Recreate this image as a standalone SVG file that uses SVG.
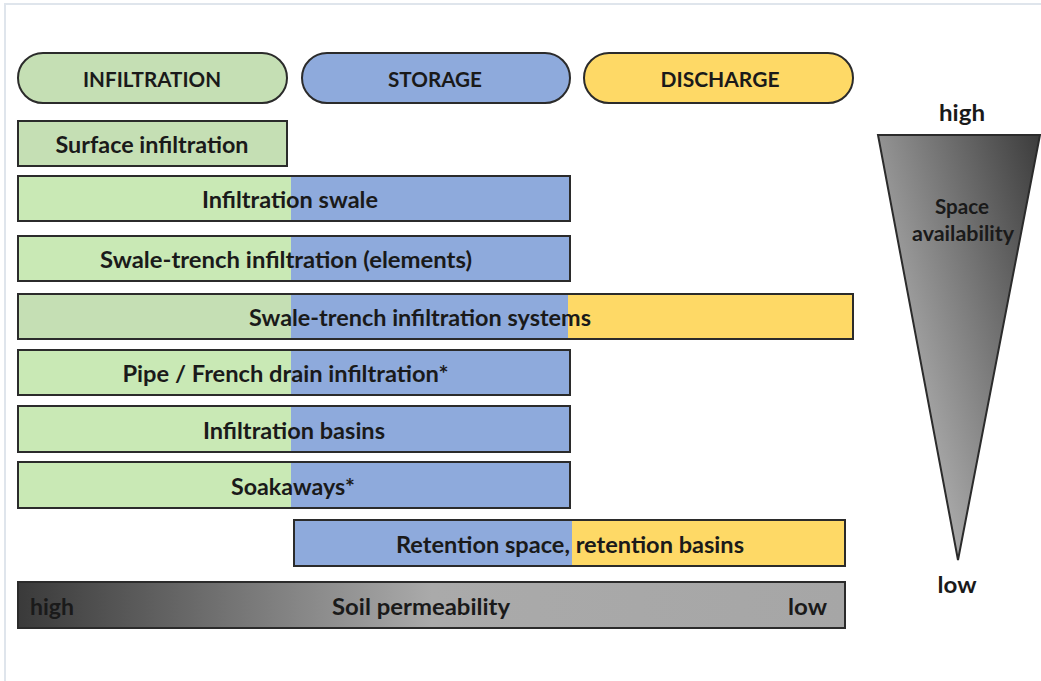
<svg xmlns="http://www.w3.org/2000/svg" width="1041" height="681" viewBox="0 0 1041 681">
<style>
.t{font-family:Lato,"Open Sans","Liberation Sans",sans-serif;font-weight:bold;font-size:23px;fill:#1a1a1a;text-anchor:middle;dominant-baseline:central}
.h{font-size:21px}
.s{font-size:20px}
.box{stroke:#2b2b2b;stroke-width:2}
.g{fill:#c9e9b5}
.gg{fill:#c5dfb4}
.b{fill:#8eaadc}
.y{fill:#fed966}
</style>
<defs>
<linearGradient id="soil" x1="0" y1="0" x2="1" y2="0">
<stop offset="0" stop-color="#3a3a3a"/>
<stop offset="0.5" stop-color="#aaaaaa"/>
<stop offset="1" stop-color="#a6a6a6"/>
</linearGradient>
<linearGradient id="tri" x1="1" y1="0" x2="0.2" y2="0.6">
<stop offset="0" stop-color="#3c3c3c"/>
<stop offset="1" stop-color="#a8a8a8"/>
</linearGradient>
</defs>
<rect width="1041" height="681" fill="#ffffff"/>
<path d="M5 681 V4 H1041" fill="none" stroke="#dfe5ec" stroke-width="2"/>

<g id="hdr-infiltration"><rect class="box gg" x="18" y="53" width="269" height="50" rx="25"/><text class="t h" x="152" y="78" textLength="138" lengthAdjust="spacingAndGlyphs">INFILTRATION</text></g>
<g id="hdr-storage"><rect class="box b" x="302" y="53" width="268" height="50" rx="25"/><text class="t h" x="435" y="78" textLength="94" lengthAdjust="spacingAndGlyphs">STORAGE</text></g>
<g id="hdr-discharge"><rect class="box y" x="584" y="53" width="269" height="50" rx="25"/><text class="t h" x="720" y="78" textLength="119" lengthAdjust="spacingAndGlyphs">DISCHARGE</text></g>

<g id="surface"><rect class="box gg" x="18" y="121" width="269" height="45"/><text class="t" x="152" y="144" textLength="193" lengthAdjust="spacingAndGlyphs">Surface infiltration</text></g>

<g id="swale"><rect class="g" x="18" y="176" width="273" height="45"/><rect class="b" x="291" y="176" width="279" height="45"/><rect class="box" fill="none" x="18" y="176" width="552" height="45"/><text class="t" x="290" y="199" textLength="176" lengthAdjust="spacingAndGlyphs">Infiltration swale</text></g>

<g id="swale-trench"><rect class="g" x="18" y="236" width="273" height="45"/><rect class="b" x="291" y="236" width="279" height="45"/><rect class="box" fill="none" x="18" y="236" width="552" height="45"/><text class="t" x="286" y="259" textLength="372" lengthAdjust="spacingAndGlyphs">Swale-trench infiltration (elements)</text></g>

<g id="systems"><rect class="gg" x="18" y="294" width="273" height="45"/><rect class="b" x="291" y="294" width="277" height="45"/><rect class="y" x="568" y="294" width="285" height="45"/><rect class="box" fill="none" x="18" y="294" width="835" height="45"/><text class="t" x="420" y="317" textLength="342" lengthAdjust="spacingAndGlyphs">Swale-trench infiltration systems</text></g>

<g id="pipe"><rect class="g" x="18" y="350" width="273" height="45"/><rect class="b" x="291" y="350" width="279" height="45"/><rect class="box" fill="none" x="18" y="350" width="552" height="45"/><text class="t" x="285.5" y="373" textLength="326" lengthAdjust="spacingAndGlyphs">Pipe / French drain infiltration*</text></g>

<g id="basins"><rect class="g" x="18" y="406" width="273" height="46"/><rect class="b" x="291" y="406" width="279" height="46"/><rect class="box" fill="none" x="18" y="406" width="552" height="46"/><text class="t" x="294" y="430" textLength="182" lengthAdjust="spacingAndGlyphs">Infiltration basins</text></g>

<g id="soakaways"><rect class="g" x="18" y="462" width="273" height="46"/><rect class="b" x="291" y="462" width="279" height="46"/><rect class="box" fill="none" x="18" y="462" width="552" height="46"/><text class="t" x="293" y="486" textLength="124" lengthAdjust="spacingAndGlyphs">Soakaways*</text></g>

<g id="retention"><rect class="b" x="294" y="520" width="278" height="46"/><rect class="y" x="572" y="520" width="273" height="46"/><rect class="box" fill="none" x="294" y="520" width="551" height="46"/><text class="t" x="570" y="544" textLength="348" lengthAdjust="spacingAndGlyphs">Retention space, retention basins</text></g>

<g id="soil-permeability"><rect class="box" fill="url(#soil)" x="18" y="582" width="827" height="46"/><text class="t" x="421" y="606" textLength="178" lengthAdjust="spacingAndGlyphs">Soil permeability</text><text class="t" x="30" y="606" style="text-anchor:start" textLength="44" lengthAdjust="spacingAndGlyphs">high</text><text class="t" x="827" y="606" style="text-anchor:end" textLength="39" lengthAdjust="spacingAndGlyphs">low</text></g>

<g id="space-availability"><polygon class="box" fill="url(#tri)" points="878,135 1040,135 958,560"/><text class="t" x="962" y="112" textLength="46" lengthAdjust="spacingAndGlyphs">high</text><text class="t" x="957" y="584" textLength="39" lengthAdjust="spacingAndGlyphs">low</text><text class="t s" x="962" y="206" textLength="54" lengthAdjust="spacingAndGlyphs">Space</text><text class="t s" x="963" y="233" textLength="102" lengthAdjust="spacingAndGlyphs">availability</text></g>
</svg>
